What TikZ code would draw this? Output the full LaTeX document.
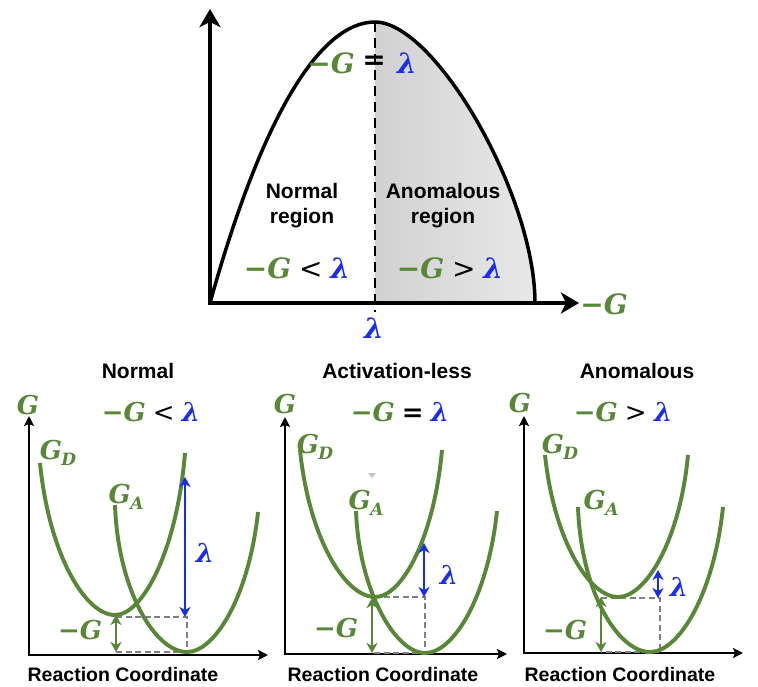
\documentclass[tikz,border=0pt]{standalone}
\usepackage{fontspec}
\setmainfont{Liberation Sans}
\newfontfamily\mff{DejaVu Serif}
\usetikzlibrary{arrows.meta}
\definecolor{ggreen}{RGB}{88,135,55}
\definecolor{bblue}{RGB}{25,45,235}
\definecolor{dgray}{RGB}{128,128,128}
\newcommand\mG{{\color{ggreen}\mff\bfseries\itshape −G}}
\newcommand\mL{{\color{bblue}\mff\bfseries\itshape λ}}
\newcommand\gG{{\color{ggreen}\mff\bfseries\itshape G}}
\newcommand\gSub[1]{{\color{ggreen}\mff\bfseries\itshape G\kern-0.5pt\raisebox{-0.25em}{\fontsize{17}{17}\selectfont #1}}}
\newcommand\relsym[1]{{\mff #1}}
\begin{document}
\begin{tikzpicture}[x=1pt,y=-1pt,
  bigaxis/.style={line width=3.6pt,{Stealth[length=18pt,width=21pt,inset=5pt]}-{Stealth[length=18pt,width=21pt,inset=5pt]}},
  topcurve/.style={line width=3.5pt},
  smallaxis/.style={line width=2.5pt,{Stealth[length=10pt,width=10pt,inset=2pt]}-{Stealth[length=10pt,width=10pt,inset=2pt]}},
  pes/.style={ggreen,line width=3.9pt},
  lamarrow/.style={bblue,line width=2.9pt,{Stealth[length=10pt,width=11pt,inset=3pt]}-{Stealth[length=10pt,width=11pt,inset=3pt]}},
  dgarrow/.style={ggreen,line width=2.9pt,{Stealth[length=10pt,width=11pt,inset=3pt]}-{Stealth[length=10pt,width=11pt,inset=3pt]}},
  guide/.style={dgray,line width=2.3pt,dash pattern=on 6pt off 3.5pt},
  bigmath/.style={inner sep=0pt,font=\fontsize{28}{30}\selectfont},
  smallmath/.style={inner sep=0pt,font=\fontsize{26}{28}\selectfont},
  regionlbl/.style={inner sep=0pt,align=center,font=\bfseries\fontsize{21}{25}\selectfont},
  paneltitle/.style={inner sep=0pt,font=\bfseries\fontsize{21}{24}\selectfont},
  rclbl/.style={inner sep=0pt,font=\bfseries\fontsize{19.5}{22}\selectfont}
]
\useasboundingbox[fill=white] (0,0) rectangle (758,686);

% ---------------- top panel ----------------
\coordinate (yt0) at (210,9);
\coordinate (o0) at (210,303);
\coordinate (xt0) at (579,303);
\coordinate (peak) at (375,22);
\coordinate (dashend) at (375,312);
\shade[left color=black!18,right color=black!9]
  (375,22) .. controls (435,22) and (535,195) .. (535,303) -- (375,303) -- cycle;
\draw[topcurve] (210,303) .. controls (262,116) and (320,22) .. (375,22)
  .. controls (435,22) and (535,195) .. (535,303);
\draw[line width=2.9pt,dash pattern=on 10pt off 6pt] (peak) -- (dashend);
\draw[bigaxis] (yt0) -- (o0) -- (xt0);

\node[bigmath] (eqg) at (331,63) {\mG};
\node[bigmath] (eqs) at (374,63) {\relsym{\bfseries =}};
\node[bigmath] (eql) at (407,63) {\mL};
\node[regionlbl] (nreg) at (302,206) {Normal\\region};
\node[regionlbl] (areg) at (443,206) {Anomalous\\region};
\node[bigmath] (nrel) at (297,268) {\mG\ \relsym{<} \mL};
\node[bigmath] (arel) at (450,268) {\mG\ \relsym{>} \mL};
\node[bigmath] (xlam) at (374,328) {\mL};
\node[bigmath] (xlbl) at (604,304) {\mG};

% ---------------- panel 1: normal ----------------
\coordinate (yt1) at (29,416);
\coordinate (o1) at (29,655);
\coordinate (xt1) at (268,655);
\draw[smallaxis] (yt1) -- (o1) -- (xt1);
\draw[guide] (116,617) -- (187,617) -- (187,652) -- (116,652);
\draw[pes] (40,463) .. controls (49,554) and (85,615) .. (115,615)
  .. controls (143,615) and (177,550) .. (185,453);
\draw[pes] (115,505) .. controls (118,590) and (155,652) .. (187,652)
  .. controls (215,652) and (249,596) .. (258,512);
\coordinate (l1t) at (185,477);
\coordinate (l1b) at (185,617);
\coordinate (g1t) at (116,615);
\coordinate (g1b) at (116,652);
\draw[lamarrow] (l1t) -- (l1b);
\draw[dgarrow] (g1t) -- (g1b);
\node[paneltitle] (t1) at (138,371) {Normal};
\node[smallmath] (ga1) at (28,405) {\gG};
\node[smallmath] (r1) at (151,412) {\mG\ \relsym{<} \mL};
\node[smallmath] (gd1) at (58,453) {\gSub{D}};
\node[smallmath] (gaa1) at (126,497) {\gSub{A}};
\node[smallmath] (lam1) at (205,553) {\mL};
\node[smallmath] (dg1) at (80,630) {\mG};
\node[rclbl] (rc1) at (123,675) {Reaction Coordinate};

% ---------------- panel 2: activation-less ----------------
\coordinate (yt2) at (285,417);
\coordinate (o2) at (285,654);
\coordinate (xt2) at (507,654);
\draw[smallaxis] (yt2) -- (o2) -- (xt2);
\draw[guide] (374,597) -- (425,597) -- (425,653) -- (372,653);
\draw[pes] (300,450) .. controls (309,538) and (345,597) .. (375,597)
  .. controls (402,597) and (434,538) .. (442,450);
\draw[pes] (356,511) .. controls (359,590) and (395,653) .. (425,653)
  .. controls (454,653) and (488,596) .. (497,511);
\coordinate (l2t) at (424,543);
\coordinate (l2b) at (424,597);
\coordinate (g2t) at (372,598);
\coordinate (g2b) at (372,653);
\draw[lamarrow] (l2t) -- (l2b);
\draw[dgarrow] (g2t) -- (g2b);
\fill[black!22] (368,473) -- (376,473) -- (372,478) -- cycle;
\node[paneltitle] (t2) at (397,371) {Activation-less};
\node[smallmath] (ga2) at (285,404) {\gG};
\node[smallmath] (r2) at (400,412) {\mG\ \relsym{\bfseries =} \mL};
\node[smallmath] (gd2) at (315,447) {\gSub{D}};
\node[smallmath] (gaa2) at (366,503) {\gSub{A}};
\node[smallmath] (lam2) at (449,575) {\mL};
\node[smallmath] (dg2) at (336,628) {\mG};
\node[rclbl] (rc2) at (383,675) {Reaction Coordinate};

% ---------------- panel 3: anomalous ----------------
\coordinate (yt3) at (524,416);
\coordinate (o3) at (524,653);
\coordinate (xt3) at (743,653);
\draw[smallaxis] (yt3) -- (o3) -- (xt3);
\draw[guide] (601,598) -- (660,598) -- (660,652) -- (601,652);
\draw[pes] (545,455) .. controls (554,540) and (589,597) .. (618,597)
  .. controls (646,597) and (680,540) .. (688,455);
\draw[pes] (578,507) .. controls (581,592) and (618,652) .. (650,652)
  .. controls (679,652) and (714,594) .. (723,507);
\coordinate (l3t) at (658,570);
\coordinate (l3b) at (658,598);
\coordinate (g3t) at (601,597);
\coordinate (g3b) at (601,652);
\draw[lamarrow] (l3t) -- (l3b);
\draw[dgarrow] (g3t) -- (g3b);
\node[paneltitle] (t3) at (637,371) {Anomalous};
\node[smallmath] (ga3) at (520,403) {\gG};
\node[smallmath] (r3) at (623,412) {\mG\ \relsym{>} \mL};
\node[smallmath] (gd3) at (560,447) {\gSub{D}};
\node[smallmath] (gaa3) at (601,503) {\gSub{A}};
\node[smallmath] (lam3) at (679,587) {\mL};
\node[smallmath] (dg3) at (565,630) {\mG};
\node[rclbl] (rc3) at (620,675) {Reaction Coordinate};
\end{tikzpicture}
\end{document}
